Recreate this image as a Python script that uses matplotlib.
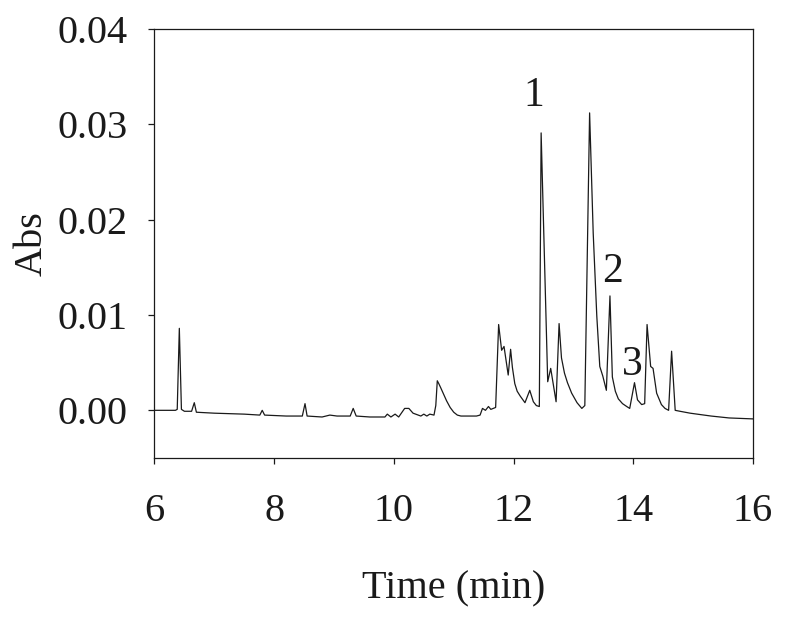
"""
Chromatogram recreation: absorbance vs retention time (6-16 min)
"""

import matplotlib
matplotlib.use("Agg")
import matplotlib.pyplot as plt

# ------------------------------------------------------------------
# Data
# ------------------------------------------------------------------
time_min = [
    6.00, 6.35, 6.38, 6.415, 6.45, 6.50, 6.62, 6.665, 6.70, 7.00,
    7.50, 7.76, 7.80, 7.84, 8.20, 8.47, 8.515, 8.55, 8.80, 8.93,
    9.05, 9.27, 9.32, 9.37, 9.60, 9.85, 9.89, 9.95, 10.02, 10.08,
    10.18, 10.25, 10.32, 10.45, 10.50, 10.55, 10.60, 10.67, 10.70, 10.725,
    10.75, 10.78, 10.83, 10.88, 10.94, 11.00, 11.06, 11.12, 11.38, 11.44,
    11.48, 11.53, 11.58, 11.62, 11.66, 11.70, 11.75, 11.80, 11.84, 11.91,
    11.95, 11.98, 12.02, 12.06, 12.11, 12.19, 12.27, 12.33, 12.38, 12.43,
    12.46, 12.57, 12.62, 12.71, 12.76, 12.80, 12.85, 12.90, 12.97, 13.06,
    13.14, 13.19, 13.27, 13.33, 13.39, 13.44, 13.49, 13.55, 13.61, 13.65,
    13.70, 13.75, 13.82, 13.89, 13.94, 14.02, 14.07, 14.14, 14.19, 14.23,
    14.29, 14.33, 14.39, 14.47, 14.53, 14.59, 14.64, 14.70, 14.78, 14.95,
    15.30, 15.60, 16.00,
]

absorbance = [
    0.0000, 0.0000, 0.0001, 0.0086, 0.0001, -0.0001, -0.0001, 0.0008, -0.0002, -0.0003,
    -0.0004, -0.0005, 0.0000, -0.0005, -0.0006, -0.0006, 0.0007, -0.0006, -0.0007, -0.0005,
    -0.0006, -0.0006, 0.0002, -0.0006, -0.0007, -0.0007, -0.0004, -0.0007, -0.0004, -0.0007,
    0.0002, 0.0002, -0.0003, -0.0006, -0.0004, -0.0006, -0.0004, -0.0005, 0.0005, 0.0031,
    0.0028, 0.0024, 0.0017, 0.0010, 0.0003, -0.0002, -0.0005, -0.0006, -0.0006, -0.0005,
    0.0002, 0.0000, 0.0004, 0.0001, 0.0002, 0.0003, 0.0090, 0.0063, 0.0067, 0.0037,
    0.0064, 0.0045, 0.0028, 0.0020, 0.0015, 0.0008, 0.0021, 0.0009, 0.0005, 0.0004,
    0.0291, 0.0030, 0.0044, 0.0009, 0.0091, 0.0055, 0.0039, 0.0029, 0.0018, 0.0008,
    0.0002, 0.0005, 0.0312, 0.0186, 0.0099, 0.0046, 0.0036, 0.0021, 0.0120, 0.0035,
    0.0020, 0.0012, 0.0007, 0.0004, 0.0002, 0.0029, 0.0011, 0.0006, 0.0007, 0.0090,
    0.0046, 0.0044, 0.0018, 0.0006, 0.0002, 0.0000, 0.0062, 0.0000, -0.0001, -0.0003,
    -0.0006, -0.0008, -0.0009,
]

# peak annotations: label, time, absorbance (text baseline)
peak_labels = ["1", "2", "3"]
peak_times = [12.34, 13.65, 13.99]
peak_abs = [0.0319, 0.01345, 0.00372]

x_ticks = [6, 8, 10, 12, 14, 16]
y_ticks = [0.00, 0.01, 0.02, 0.03, 0.04]

# ------------------------------------------------------------------
# Plot
# ------------------------------------------------------------------
plt.rcParams["font.family"] = ["Liberation Serif", "DejaVu Serif"]

fig = plt.figure(figsize=(7.87, 6.21), dpi=100)
ax = fig.add_axes([0.1963, 0.2625, 0.7605, 0.6908])

ax.plot(time_min, absorbance, color="#1a1a1a", lw=0.9)

for lab, t, a in zip(peak_labels, peak_times, peak_abs):
    ax.text(t, a, lab, ha="center", va="baseline", fontsize=30, color="#1a1a1a")

ax.set_xlim(6, 16)
ax.set_ylim(-0.005, 0.04)
ax.set_xticks(x_ticks)
ax.set_yticks(y_ticks)
ax.set_xticklabels([str(v) for v in x_ticks])
ax.set_yticklabels([f"{v:.2f}" for v in y_ticks])

ax.tick_params(axis="x", direction="out", length=4.5, width=0.9, pad=21,
               labelsize=29, colors="#1a1a1a")
ax.tick_params(axis="y", direction="out", length=4.5, width=0.9, pad=15,
               labelsize=29, colors="#1a1a1a")
ax.tick_params(top=False, right=False)

for spine in ax.spines.values():
    spine.set_linewidth(0.9)
    spine.set_color("#1a1a1a")

ax.set_xlabel("Time (min)", fontsize=29, labelpad=29, color="#1a1a1a")
ax.set_ylabel("Abs", fontsize=29, labelpad=5, color="#1a1a1a")

fig.savefig("out.png", dpi=100)
plt.close(fig)
